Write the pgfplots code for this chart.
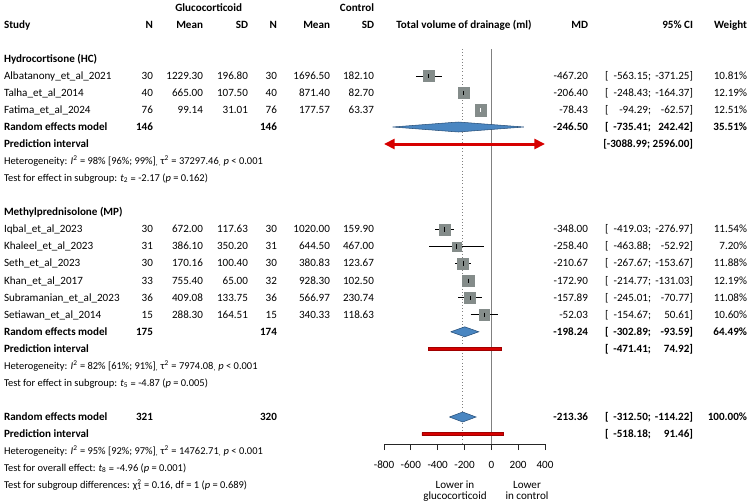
\documentclass[border=0pt]{standalone}
\usepackage{fontspec}
\setmainfont{Carlito}
\usepackage{pgfplots}
\pgfplotsset{compat=1.18}
\usetikzlibrary{arrows.meta}
\definecolor{sqgray}{RGB}{132,140,138}
\definecolor{diafill}{RGB}{74,134,193}
\definecolor{diadraw}{RGB}{38,78,120}
\definecolor{pired}{RGB}{214,0,0}
\definecolor{linegray}{RGB}{128,128,128}
\newcommand{\fs}{\fontsize{8.33pt}{10pt}\selectfont}
\newcommand{\fh}{\fontsize{7.85pt}{9pt}\selectfont}
\begin{document}
\begin{tikzpicture}
\begin{axis}[
  at={(288pt,0pt)}, anchor=north west,
  scale only axis, width=120.75pt, height=333pt,
  xmin=-800, xmax=400, ymin=-444, ymax=0,
  axis y line=none, axis x line*=bottom,
  axis line style={black!85, line width=0.6pt, -},
  xtick={-800,-600,-400,-200,0,200,400},
  tick align=outside, major tick length=4.5pt,
  tick style={black!85, line width=0.6pt},
  xticklabel style={font=\fs, inner sep=0pt, yshift=-8pt},
  /pgf/number format/assume math mode=true,
  clip=false]
% reference lines
\addplot[linegray, line width=0.4pt, dotted] coordinates {(-213.36,-49) (-213.36,-444)};
\addplot[linegray, line width=1.1pt] coordinates {(0,-49) (0,-444)};
% Hydrocortisone studies
\addplot[only marks, mark=square*, mark size=4.06pt, mark options={fill=sqgray, draw=sqgray}] coordinates {(-467.20,-76)};
\addplot[black, line width=0.6pt] coordinates {(-563.15,-76) (-371.25,-76)};
\addplot[only marks, mark=|, mark size=1.6pt, black, line width=0.6pt] coordinates {(-467.20,-76)};
\addplot[only marks, mark=square*, mark size=4.31pt, mark options={fill=sqgray, draw=sqgray}] coordinates {(-206.40,-93)};
\addplot[black, line width=0.6pt] coordinates {(-248.43,-93) (-164.37,-93)};
\addplot[only marks, mark=|, mark size=1.6pt, black, line width=0.6pt] coordinates {(-206.40,-93)};
\addplot[only marks, mark=square*, mark size=4.37pt, mark options={fill=sqgray, draw=sqgray}] coordinates {(-78.43,-110)};
\addplot[white, line width=0.6pt] coordinates {(-94.29,-110) (-62.57,-110)};
\addplot[only marks, mark=|, mark size=1.6pt, white, line width=0.6pt] coordinates {(-78.43,-110)};
% HC pooled
\addplot[fill=diafill, draw=diadraw, line width=0.4pt] coordinates {(-735.41,-127) (-246.50,-122) (242.42,-127) (-246.50,-132) (-735.41,-127)};
\addplot[pired, line width=2.25pt, arrows={Triangle[length=8pt,width=7.5pt]-Triangle[length=8pt,width=7.5pt]}] coordinates {(-800,-144) (400,-144)};
% Methylprednisolone studies
\addplot[only marks, mark=square*, mark size=4.20pt, mark options={fill=sqgray, draw=sqgray}] coordinates {(-348.00,-229.5)};
\addplot[black, line width=0.6pt] coordinates {(-419.03,-229.5) (-276.97,-229.5)};
\addplot[only marks, mark=|, mark size=1.6pt, black, line width=0.6pt] coordinates {(-348.00,-229.5)};
\addplot[only marks, mark=square*, mark size=3.31pt, mark options={fill=sqgray, draw=sqgray}] coordinates {(-258.40,-246.5)};
\addplot[black, line width=0.6pt] coordinates {(-463.88,-246.5) (-52.92,-246.5)};
\addplot[only marks, mark=|, mark size=1.6pt, black, line width=0.6pt] coordinates {(-258.40,-246.5)};
\addplot[only marks, mark=square*, mark size=4.26pt, mark options={fill=sqgray, draw=sqgray}] coordinates {(-210.67,-263.6)};
\addplot[black, line width=0.6pt] coordinates {(-267.67,-263.6) (-153.67,-263.6)};
\addplot[only marks, mark=|, mark size=1.6pt, black, line width=0.6pt] coordinates {(-210.67,-263.6)};
\addplot[only marks, mark=square*, mark size=4.31pt, mark options={fill=sqgray, draw=sqgray}] coordinates {(-172.90,-280.7)};
\addplot[black, line width=0.6pt] coordinates {(-214.77,-280.7) (-131.03,-280.7)};
\addplot[only marks, mark=|, mark size=1.6pt, black, line width=0.6pt] coordinates {(-172.90,-280.7)};
\addplot[only marks, mark=square*, mark size=4.11pt, mark options={fill=sqgray, draw=sqgray}] coordinates {(-157.89,-297.7)};
\addplot[black, line width=0.6pt] coordinates {(-245.01,-297.7) (-70.77,-297.7)};
\addplot[only marks, mark=|, mark size=1.6pt, black, line width=0.6pt] coordinates {(-157.89,-297.7)};
\addplot[only marks, mark=square*, mark size=4.02pt, mark options={fill=sqgray, draw=sqgray}] coordinates {(-52.03,-314.8)};
\addplot[black, line width=0.6pt] coordinates {(-154.67,-314.8) (50.61,-314.8)};
\addplot[only marks, mark=|, mark size=1.6pt, black, line width=0.6pt] coordinates {(-52.03,-314.8)};
% MP pooled
\addplot[fill=diafill, draw=diadraw, line width=0.4pt] coordinates {(-302.89,-331.8) (-198.24,-326.8) (-93.59,-331.8) (-198.24,-336.8) (-302.89,-331.8)};
\addplot[fill=pired, draw=pired!75!black, line width=0.3pt] coordinates {(-471.41,-347.4) (74.92,-347.4) (74.92,-350.4) (-471.41,-350.4) (-471.41,-347.4)};
% overall
\addplot[fill=diafill, draw=diadraw, line width=0.4pt] coordinates {(-312.50,-417) (-213.36,-412) (-114.22,-417) (-213.36,-422) (-312.50,-417)};
\addplot[fill=pired, draw=pired!75!black, line width=0.3pt] coordinates {(-518.18,-432.6) (91.46,-432.6) (91.46,-435.6) (-518.18,-435.6) (-518.18,-432.6)};
\end{axis}

\begin{scope}[x=0.75pt,y=-0.75pt,
  every node/.style={inner sep=0pt, outer sep=0pt, font=\fs},
  L/.style={anchor=base west, yshift=-2.5pt},
  R/.style={anchor=base east, yshift=-2.5pt},
  C/.style={anchor=base, yshift=-2.5pt}]
\path[use as bounding box] (0,0) rectangle (749,503);
% headers
\node[R, font=\fs\bfseries] at (242,8) {Glucocorticoid};
\node[R, font=\fs\bfseries] at (374,8) {Control};
\node[L, font=\fs\bfseries] at (4,25) {Study};
\node[R, font=\fs\bfseries] at (153,25) {N};
\node[R, font=\fs\bfseries] at (203,25) {Mean};
\node[R, font=\fs\bfseries] at (248,25) {SD};
\node[R, font=\fs\bfseries] at (277,25) {N};
\node[R, font=\fs\bfseries] at (330,25) {Mean};
\node[R, font=\fs\bfseries] at (374,25) {SD};
\node[C, font=\fs\bfseries] at (464,25) {Total volume of drainage (ml)};
\node[R, font=\fs\bfseries] at (588,25) {MD};
\node[R, font=\fs\bfseries] at (693,25) {95\% CI};
\node[R, font=\fs\bfseries] at (747,25) {Weight};

% HC group
\node[L, font=\fs\bfseries] at (4,59) {Hydrocortisone (HC)};
\foreach \y/\name/\na/\ma/\sa/\nb/\mb/\sb/\md/\lo/\hi/\w in {
 76/Albatanony\_et\_al\_2021/30/1229.30/196.80/30/1696.50/182.10/-467.20/-563.15/-371.25/10.81\%,
 93/Talha\_et\_al\_2014/40/665.00/107.50/40/871.40/82.70/-206.40/-248.43/-164.37/12.19\%,
 110/Fatima\_et\_al\_2024/76/99.14/31.01/76/177.57/63.37/-78.43/-94.29/-62.57/12.51\%,
 229.5/Iqbal\_et\_al\_2023/30/672.00/117.63/30/1020.00/159.90/-348.00/-419.03/-276.97/11.54\%,
 246.5/Khaleel\_et\_al\_2023/31/386.10/350.20/31/644.50/467.00/-258.40/-463.88/-52.92/7.20\%,
 263.6/Seth\_et\_al\_2023/30/170.16/100.40/30/380.83/123.67/-210.67/-267.67/-153.67/11.88\%,
 280.7/Khan\_et\_al\_2017/33/755.40/65.00/32/928.30/102.50/-172.90/-214.77/-131.03/12.19\%,
 297.7/Subramanian\_et\_al\_2023/36/409.08/133.75/36/566.97/230.74/-157.89/-245.01/-70.77/11.08\%,
 314.8/Setiawan\_et\_al\_2014/15/288.30/164.51/15/340.33/118.63/-52.03/-154.67/50.61/10.60\%}{
  \node[L] at (4,\y) {\name};
  \node[R] at (153,\y) {\na};
  \node[R] at (203,\y) {\ma};
  \node[R] at (248,\y) {\sa};
  \node[R] at (277,\y) {\nb};
  \node[R] at (330,\y) {\mb};
  \node[R] at (374,\y) {\sb};
  \node[R] at (588,\y) {\md};
  \node[L] at (605,\y) {[};
  \node[R] at (651,\y) {\lo;};
  \node[R] at (693,\y) {\hi]};
  \node[R] at (747,\y) {\w};
}

% HC summary
\node[L, font=\fs\bfseries] at (4,127) {Random effects model};
\node[R, font=\fs\bfseries] at (153,127) {146};
\node[R, font=\fs\bfseries] at (277,127) {146};
\node[R, font=\fs\bfseries] at (588,127) {-246.50};
\node[L, font=\fs\bfseries] at (605,127) {[};
\node[R, font=\fs\bfseries] at (651,127) {-735.41;};
\node[R, font=\fs\bfseries] at (693,127) {242.42]};
\node[R, font=\fs\bfseries] at (747,127) {35.51\%};
\node[L, font=\fs\bfseries] at (4,144) {Prediction interval};
\node[R, font=\fs\bfseries] at (693,144) {[-3088.99; 2596.00]};
\node[L, font=\fh] at (4,161) {Heterogeneity: {\itshape I}\textsuperscript{2} = 98\% [96\%; 99\%]\textsubscript{,} τ\textsuperscript{2} = 37297.46\textsubscript{,} {\itshape p} < 0.001};
\node[L, font=\fh] at (4,178) {Test for effect in subgroup: {\itshape t}\textsubscript{2}\raisebox{-1pt}{ =} -2.17 ({\itshape p} = 0.162)};

% MP group
\node[L, font=\fs\bfseries] at (4,212.5) {Methylprednisolone (MP)};
\node[L, font=\fs\bfseries] at (4,331.8) {Random effects model};
\node[R, font=\fs\bfseries] at (153,331.8) {175};
\node[R, font=\fs\bfseries] at (277,331.8) {174};
\node[R, font=\fs\bfseries] at (588,331.8) {-198.24};
\node[L, font=\fs\bfseries] at (605,331.8) {[};
\node[R, font=\fs\bfseries] at (651,331.8) {-302.89;};
\node[R, font=\fs\bfseries] at (693,331.8) {-93.59]};
\node[R, font=\fs\bfseries] at (747,331.8) {64.49\%};
\node[L, font=\fs\bfseries] at (4,348.9) {Prediction interval};
\node[L, font=\fs\bfseries] at (605,348.9) {[};
\node[R, font=\fs\bfseries] at (651,348.9) {-471.41;};
\node[R, font=\fs\bfseries] at (693,348.9) {74.92]};
\node[L, font=\fh] at (4,365.9) {Heterogeneity: {\itshape I}\textsuperscript{2} = 82\% [61\%; 91\%]\textsubscript{,} τ\textsuperscript{2} = 7974.08\textsubscript{,} {\itshape p} < 0.001};
\node[L, font=\fh] at (4,383) {Test for effect in subgroup: {\itshape t}\textsubscript{5}\raisebox{-1pt}{ =} -4.87 ({\itshape p} = 0.005)};

% overall
\node[L, font=\fs\bfseries] at (4,417) {Random effects model};
\node[R, font=\fs\bfseries] at (153,417) {321};
\node[R, font=\fs\bfseries] at (277,417) {320};
\node[R, font=\fs\bfseries] at (588,417) {-213.36};
\node[L, font=\fs\bfseries] at (605,417) {[};
\node[R, font=\fs\bfseries] at (651,417) {-312.50;};
\node[R, font=\fs\bfseries] at (693,417) {-114.22]};
\node[R, font=\fs\bfseries] at (747,417) {100.00\%};
\node[L, font=\fs\bfseries] at (4,434.1) {Prediction interval};
\node[L, font=\fs\bfseries] at (605,434.1) {[};
\node[R, font=\fs\bfseries] at (651,434.1) {-518.18;};
\node[R, font=\fs\bfseries] at (693,434.1) {91.46]};
\node[L, font=\fh] at (4,451.2) {Heterogeneity: {\itshape I}\textsuperscript{2} = 95\% [92\%; 97\%]\textsubscript{,} τ\textsuperscript{2} = 14762.71\textsubscript{,} {\itshape p} < 0.001};
\node[L, font=\fh] at (4,468.2) {Test for overall effect: {\itshape t}\textsubscript{8}\raisebox{-1pt}{ =} -4.96 ({\itshape p} = 0.001)};
\node[L, font=\fh] at (4,485.3) {Test for subgroup differences: χ\rlap{\textsuperscript{2}}\textsubscript{1} = 0.16, df = 1 ({\itshape p} = 0.689)};

% axis direction labels
\node[C] at (455,485) {Lower in};
\node[C] at (455,496) {glucocorticoid};
\node[C] at (527,485) {Lower};
\node[C] at (527,496) {in control};
\end{scope}
\end{tikzpicture}
\end{document}
